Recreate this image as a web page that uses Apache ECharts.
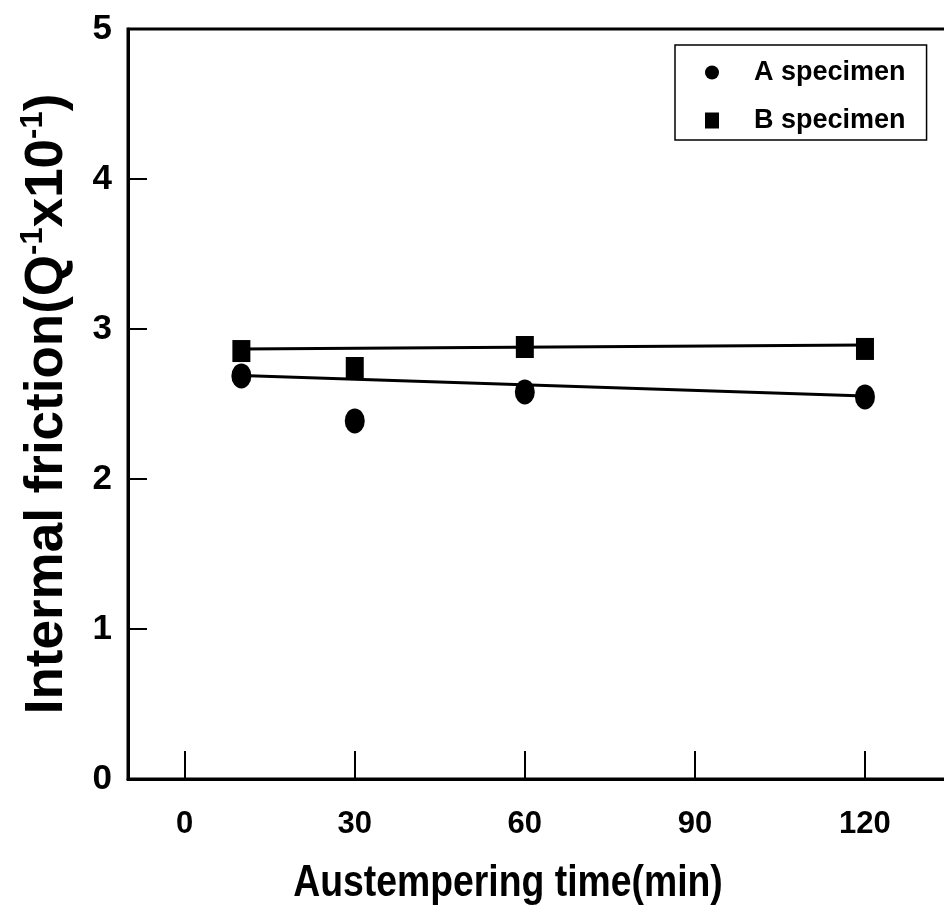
<!DOCTYPE html>
<html>
<head>
<meta charset="utf-8">
<script src="https://cdn.jsdelivr.net/npm/echarts@6/dist/echarts.min.js"></script>
<style>
  html, body { margin: 0; padding: 0; background: #fff; }
  #chart { width: 944px; height: 913px; }
</style>
</head>
<body>
<div id="chart"></div>
<script>
  // austempering time (min) of each measured point
  var times = [10, 30, 60, 120]
  var specimenA = [2.687, 2.387, 2.58, 2.547]
  var specimenB = [2.853, 2.74, 2.88, 2.867]
  // end points of the fitted lines
  var fitTimes = [10, 120]
  var fitA = [2.69, 2.553]
  var fitB = [2.867, 2.893]
  var xTicks = [0, 30, 60, 90, 120]
  var seriesNames = ['A specimen', 'B specimen']
  var xTitle = 'Austempering time(min)'

  function pairs(xs, ys) {
    return xs.map(function (x, i) { return [x, ys[i]] })
  }

  var sans = '"Liberation Sans", Arial, sans-serif'

  var chart = echarts.init(document.getElementById('chart'))
  chart.setOption({
    animation: false,
    backgroundColor: '#fff',
    grid: {
      left: 128,
      right: -6,
      top: 29,
      bottom: 134,
      show: true,
      borderColor: '#000',
      borderWidth: 3,
      containLabel: false,
      outerBoundsMode: 'none'
    },
    // x title drawn squeezed like the narrow face of the original
    graphic: [{
      type: 'text',
      x: 508,
      y: 884,
      scaleX: 0.83,
      silent: true,
      style: {
        text: xTitle,
        x: 0,
        y: 0,
        align: 'center',
        verticalAlign: 'middle',
        font: 'bold 45px ' + sans,
        fill: '#000'
      }
    }],
    legend: {
      data: seriesNames,
      orient: 'vertical',
      left: 675,
      top: 45,
      borderColor: '#000',
      borderWidth: 1.5,
      borderRadius: 0,
      padding: [14, 21, 6, 30],
      itemGap: 21,
      itemWidth: 14,
      itemHeight: 16,
      textStyle: {
        fontFamily: sans,
        fontWeight: 'bold',
        fontSize: 27,
        color: '#000',
        padding: [0, 0, 0, 30]
      }
    },
    xAxis: {
      type: 'value',
      min: -10,
      max: 135,
      splitLine: { show: false },
      axisLine: { onZero: false, lineStyle: { color: '#000', width: 3 } },
      axisTick: {
        inside: true,
        length: 28,
        customValues: xTicks,
        lineStyle: { color: '#000', width: 2 }
      },
      axisLabel: {
        customValues: xTicks,
        margin: 30,
        fontFamily: sans,
        fontWeight: 'bold',
        fontSize: 31,
        color: '#000'
      }
    },
    yAxis: {
      type: 'value',
      min: 0,
      max: 5,
      interval: 1,
      name: '{n|Intermal friction(Q}{s|-1}{n|x10}{s|-1}{n|)}',
      nameLocation: 'middle',
      nameGap: 52,
      nameTextStyle: {
        rich: {
          n: { fontFamily: sans, fontWeight: 'bold', fontSize: 53, color: '#000', lineHeight: 58 },
          s: { fontFamily: sans, fontWeight: 'bold', fontSize: 31, color: '#000', lineHeight: 58, verticalAlign: 'top', padding: [0, 0, 22, 0] }
        }
      },
      splitLine: { show: false },
      axisLine: { onZero: false, lineStyle: { color: '#000', width: 3 } },
      axisTick: {
        inside: true,
        length: 19,
        lineStyle: { color: '#000', width: 2 }
      },
      axisLabel: {
        margin: 16,
        fontFamily: sans,
        fontWeight: 'bold',
        fontSize: 35,
        color: '#000'
      }
    },
    series: [
      {
        name: 'fit A',
        type: 'line',
        data: pairs(fitTimes, fitA),
        symbol: 'none',
        silent: true,
        z: 1,
        lineStyle: { color: '#000', width: 3 }
      },
      {
        name: 'fit B',
        type: 'line',
        data: pairs(fitTimes, fitB),
        symbol: 'none',
        silent: true,
        z: 1,
        lineStyle: { color: '#000', width: 3 }
      },
      {
        name: seriesNames[0],
        type: 'scatter',
        data: pairs(times, specimenA),
        symbol: 'circle',
        symbolSize: [20, 25],
        z: 3,
        itemStyle: { color: '#000', opacity: 1 }
      },
      {
        name: seriesNames[1],
        type: 'scatter',
        data: pairs(times, specimenB),
        symbol: 'rect',
        symbolSize: [18, 22],
        z: 3,
        itemStyle: { color: '#000', opacity: 1 }
      }
    ]
  })
</script>
</body>
</html>
